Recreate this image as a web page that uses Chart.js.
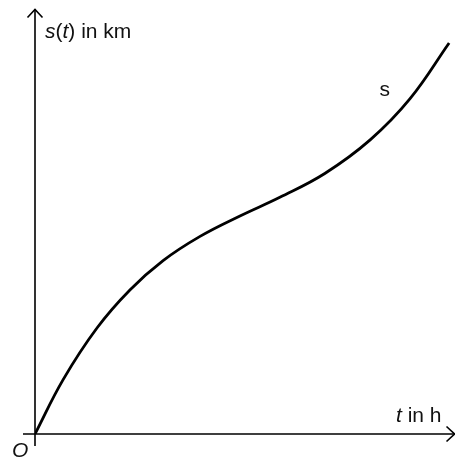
<!DOCTYPE html>
<html>
<head>
<meta charset="utf-8">
<script src="https://cdn.jsdelivr.net/npm/chart.js@4"></script>
<style>
  html, body { margin: 0; padding: 0; background: #fff; }
  canvas { display: block; }
</style>
</head>
<body>
<canvas id="chart" width="455" height="459"></canvas>
<script>
// t in h (arbitrary units, axis runs 0..10)
const tValues = [0, 0.67, 1.48, 2.26, 3.05, 3.93, 4.88, 5.83, 6.90, 7.98, 8.93, 9.86];
// s(t) in km
const sValues = [0, 1.28, 2.50, 3.39, 4.08, 4.65, 5.13, 5.57, 6.13, 6.92, 7.89, 9.20];
const xMax = 10, yMax = 10;
const FONT = '"Liberation Sans", Arial, sans-serif';

// draws text made of [string, italic] parts
function drawParts(ctx, parts, x, y){
  parts.forEach(([txt, it]) => {
    ctx.font = (it ? 'italic ' : '') + '21px ' + FONT;
    ctx.fillText(txt, x, y);
    x += ctx.measureText(txt).width;
  });
}

const axesPlugin = {
  id: 'axes',
  beforeDatasetsDraw(chart){
    const ctx = chart.ctx, xs = chart.scales.x, ys = chart.scales.y;
    const x0 = xs.getPixelForValue(0), y0 = ys.getPixelForValue(0);
    const xEnd = xs.getPixelForValue(xMax), yEnd = ys.getPixelForValue(yMax);
    ctx.save();
    ctx.strokeStyle = '#000';
    ctx.lineWidth = 1.6;
    ctx.lineCap = 'butt';
    ctx.beginPath();
    ctx.moveTo(x0, y0 + 12); ctx.lineTo(x0, yEnd);
    ctx.moveTo(x0 - 12, y0); ctx.lineTo(xEnd, y0);
    ctx.stroke();
    // open arrow heads
    ctx.lineJoin = 'miter';
    ctx.beginPath();
    ctx.moveTo(x0 - 7.5, yEnd + 8.5); ctx.lineTo(x0, yEnd + 0.5); ctx.lineTo(x0 + 7.5, yEnd + 8.5);
    ctx.moveTo(xEnd - 8.5, y0 - 7.5); ctx.lineTo(xEnd - 0.5, y0); ctx.lineTo(xEnd - 8.5, y0 + 7.5);
    ctx.stroke();
    ctx.restore();
  },
  afterDraw(chart){
    const ctx = chart.ctx, xs = chart.scales.x, ys = chart.scales.y;
    const x0 = xs.getPixelForValue(0), y0 = ys.getPixelForValue(0);
    ctx.save();
    ctx.fillStyle = '#111';
    ctx.textBaseline = 'alphabetic';
    ctx.textAlign = 'left';
    drawParts(ctx, [['s', true], ['(', false], ['t', true], [') in km', false]], x0 + 10, 38);
    drawParts(ctx, [['t', true], [' in h', false]], 396, 422);
    drawParts(ctx, [['O', true]], x0 - 23, 457);
    drawParts(ctx, [['s', false]], xs.getPixelForValue(8.2), ys.getPixelForValue(7.95));
    ctx.restore();
  }
};

new Chart(document.getElementById('chart'), {
  type: 'scatter',
  data: {
    datasets: [{
      data: tValues.map((t, i) => ({ x: t, y: sValues[i] })),
      showLine: true,
      borderColor: '#000',
      borderWidth: 2.8,
      pointRadius: 0,
      tension: 0.4,
      fill: false
    }]
  },
  options: {
    responsive: false,
    animation: false,
    layout: { padding: { left: 35, right: 0, top: 9, bottom: 25 } },
    plugins: { legend: { display: false }, tooltip: { enabled: false } },
    scales: {
      x: { type: 'linear', min: 0, max: xMax, display: false },
      y: { type: 'linear', min: 0, max: yMax, display: false }
    }
  },
  plugins: [axesPlugin]
});
</script>
</body>
</html>
